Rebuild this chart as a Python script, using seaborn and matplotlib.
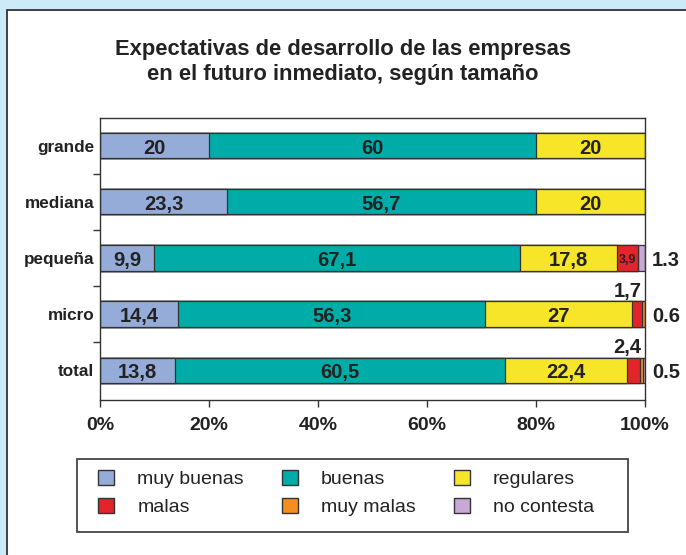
import numpy as np
import pandas as pd
import matplotlib
matplotlib.use("Agg")
import matplotlib.pyplot as plt
from matplotlib.patches import Patch, Rectangle
import seaborn as sns

# data
sizes = ["grande", "mediana", "pequeña", "micro", "total"]
series = ["muy buenas", "buenas", "regulares", "malas", "muy malas", "no contesta"]
muy_buenas = [20, 23.3, 9.9, 14.4, 13.8]
buenas = [60, 56.7, 67.1, 56.3, 60.5]
regulares = [20, 20, 17.8, 27, 22.4]
malas = [0, 0, 3.9, 1.7, 2.4]
muy_malas = [0, 0, 0, 0.6, 0.5]
no_contesta = [0, 0, 1.3, 0, 0.4]
colors = ["#95acd9", "#00aca7", "#f7e529", "#e3242b", "#f68d1f", "#c9a8d5"]
xticks = [0, 20, 40, 60, 80, 100]
# labels placed outside the bars
right_labels = {"pequeña": "1.3", "micro": "0.6", "total": "0.5"}
above_labels = {"micro": "1,7", "total": "2,4"}

plt.rcParams["font.family"] = ["Liberation Sans", "DejaVu Sans"]

vals = np.array([muy_buenas, buenas, regulares, malas, muy_malas, no_contesta])
cum = vals.cumsum(axis=0)
left = cum - vals

fig = plt.figure(figsize=(6.86, 5.55), dpi=100, facecolor="#cdeafb")
ax = fig.add_axes([100 / 686, 1 - 400 / 555, 545 / 686, 282 / 555])

# white panel behind everything
fig.patches.append(Rectangle((7 / 686, -0.05), 1.0, 1 - 10 / 555 + 0.05,
                             transform=fig.transFigure, facecolor="white",
                             edgecolor="#333333", lw=1.3, zorder=-2))

# stacked bars: draw cumulative totals from the last series back to the first
for i in range(len(series) - 1, -1, -1):
    df = pd.DataFrame({"size": sizes, "value": cum[i]})
    sns.barplot(data=df, x="value", y="size", orient="h", color=colors[i],
                saturation=1, width=0.45, edgecolor="#333333", linewidth=0.9,
                errorbar=None, ax=ax)

dy = 0.045  # nudge text down to look centred in the bar
for j, s in enumerate(sizes):
    for i in range(3):
        v = vals[i, j]
        txt = f"{v:g}".replace(".", ",")
        ax.text(left[i, j] + v / 2, j + dy, txt, ha="center", va="center",
                fontsize=14.5, fontweight="bold", color="#222222")
    if vals[3, j] >= 3:
        ax.text(left[3, j] + vals[3, j] / 2, j + dy, f"{vals[3, j]:g}".replace(".", ","),
                ha="center", va="center", fontsize=9, fontweight="bold", color="#222222")
    if s in right_labels:
        ax.text(101.3, j + dy, right_labels[s], ha="left", va="center",
                fontsize=14.5, fontweight="bold", color="#222222", clip_on=False)
    if s in above_labels:
        ax.text(99.4, j - 0.4, above_labels[s], ha="right", va="center",
                fontsize=14.5, fontweight="bold", color="#222222")

ax.set_xlim(0, 100)
ax.set_ylim(4.53, -0.49)
ax.set_xlabel("")
ax.set_ylabel("")
ax.set_xticks(xticks)
ax.set_xticklabels([f"{t}%" for t in xticks], fontsize=14, fontweight="bold", color="#222222")
ax.set_yticks(range(len(sizes)))
ax.set_yticklabels(sizes, fontsize=12.3, fontweight="bold", color="#222222")
ax.set_yticks([0.5, 1.5, 2.5, 3.5], minor=True)
ax.tick_params(axis="y", which="major", length=0, pad=4)
ax.tick_params(axis="y", which="minor", length=5, width=1, color="#333333")
ax.tick_params(axis="x", length=5, width=1, color="#333333", pad=7)
for sp in ax.spines.values():
    sp.set_color("#333333")
    sp.set_linewidth(1)

fig.text(0.5, 1 - 62 / 555, "Expectativas de desarrollo de las empresas\nen el futuro inmediato, según tamaño",
         ha="center", va="center", fontsize=15.8, fontweight="bold", color="#222222",
         linespacing=1.3)

# legend
handles = [Patch(facecolor=c, edgecolor="#333333", lw=1) for c in colors]
order = [0, 3, 1, 4, 2, 5]
fig.patches.append(Rectangle((77 / 686, 1 - 532 / 555), 551 / 686, 73 / 555,
                             transform=fig.transFigure, facecolor="none",
                             edgecolor="#444444", lw=1.3, zorder=-1))
fig.legend([handles[k] for k in order], [series[k] for k in order], ncol=3,
           loc="upper left", bbox_to_anchor=(98 / 686, 1 - 470 / 555),
           frameon=False, fontsize=14, borderpad=0, borderaxespad=0,
           handlelength=0.82, handleheight=0.82, handletextpad=1.2,
           columnspacing=1.95, labelspacing=0.5, labelcolor="#222222")

fig.savefig("out.png", dpi=100, facecolor=fig.get_facecolor())
